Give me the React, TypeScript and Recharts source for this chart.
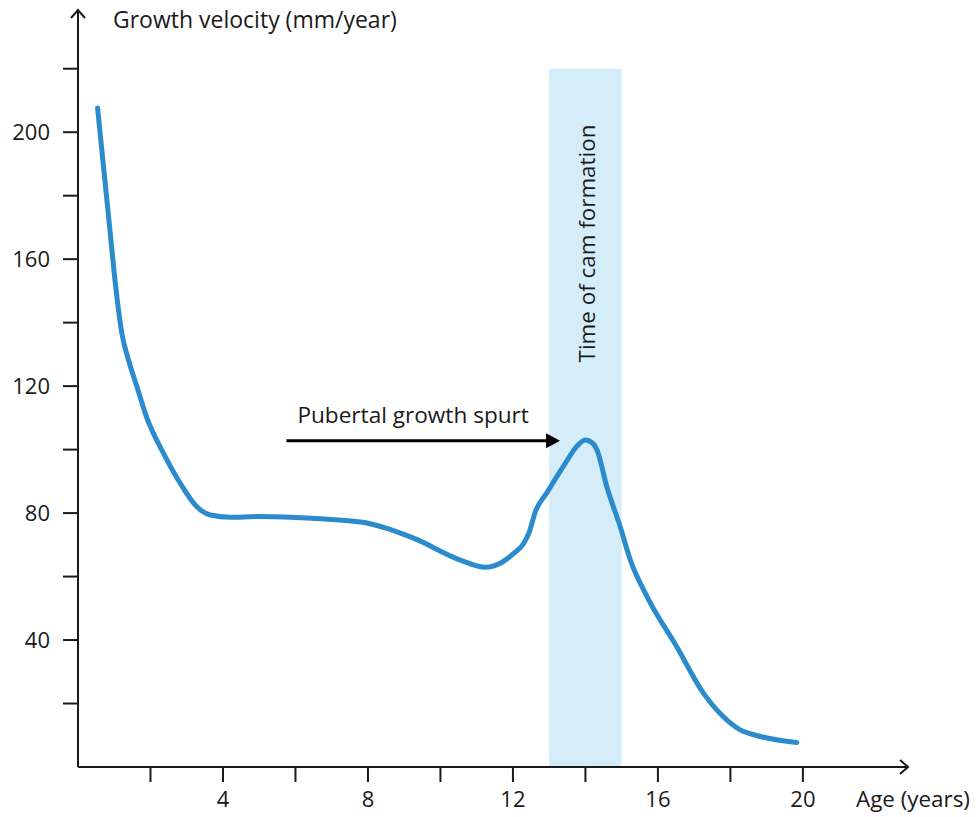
import {
  LineChart,
  Line,
  XAxis,
  YAxis,
  ReferenceArea,
  ReferenceLine,
  ReferenceDot,
} from "recharts";

// age (years) and growth velocity (mm/year)
const ages = [
  0.54, 0.75, 0.89, 1.03, 1.21, 1.4, 1.62, 1.9, 2.36, 2.82, 3.28, 3.65, 4.2, 4.94, 6, 7, 8, 9.26,
  10.55, 11.24, 11.7, 12.02, 12.3, 12.45, 12.62, 12.93, 13.39, 13.8, 14.0, 14.2, 14.32, 14.59,
  14.96, 15.24, 15.7, 16.52, 17.26, 17.8, 18.27, 18.7, 19.83,
];
const velocity = [
  207.6, 183.9, 168.2, 152.4, 136.6, 128, 120, 110, 98.8, 89.4, 82.0, 79.4, 78.7, 78.9, 78.6,
  78.0, 76.8, 72.1, 65.2, 62.9, 64.5, 67.3, 70.5, 74, 80.5, 86.3, 94.7, 101.5, 103, 102, 99.9,
  88.3, 75.7, 65.2, 53.7, 37.9, 23.2, 15.9, 11.7, 10.0, 7.7,
];

const xTicks = [2, 4, 6, 8, 10, 12, 14, 16, 18, 20];
const yTicks = [20, 40, 60, 80, 100, 120, 140, 160, 180, 200, 220];

// cam formation window and the growth spurt arrow
const camWindow = [13, 15];
const camTop = 220;
const spurtArrow = { from: 5.75, to: 13.3, y: 102.8 };

const X_MAX = 22.9;
const Y_MAX = 238.5;

const FONT = "'Open Sans', sans-serif";
const INK = "#1a1a1a";

const data = ages.map((age, i) => ({ age, velocity: velocity[i] }));

const Chevron = ({ cx, cy, dir }: any) => {
  if (cx == null || cy == null) return null;
  const pts =
    dir === "right"
      ? `${cx - 8},${cy - 7} ${cx},${cy} ${cx - 8},${cy + 7}`
      : `${cx - 7},${cy + 8} ${cx},${cy} ${cx + 7},${cy + 8}`;
  return <polyline points={pts} fill="none" stroke={INK} strokeWidth={2} />;
};

const SpurtArrow = (props: any) => {
  const { x1, y1, x2 } = props;
  if (x1 == null) return null;
  return (
    <g>
      <line x1={x1} y1={y1} x2={x2 - 12} y2={y1} stroke="#000" strokeWidth={3} />
      <polygon points={`${x2 - 14},${y1 - 7.5} ${x2},${y1} ${x2 - 14},${y1 + 7.5}`} fill="#000" />
      <text x={x1 + 11} y={y1 - 18} fontSize={22.6} fontFamily={FONT} fill={INK}>
        Pubertal growth spurt
      </text>
    </g>
  );
};

const App = () => {
  const tickStyle = { fontSize: 22, fontFamily: FONT, fill: INK };

  return (
    <div style={{ position: "absolute", left: 0, top: 0, background: "#fff" }}>
      <LineChart width={980} height={817} data={data} margin={{ top: 10, right: 72, left: 0, bottom: 0 }}>
        <ReferenceArea
          x1={camWindow[0]}
          x2={camWindow[1]}
          y1={0}
          y2={camTop}
          fill="#d5edf8"
          fillOpacity={1}
          stroke="none"
          label={({ viewBox }: any) => {
            const cx = viewBox.x + viewBox.width / 2 + 1;
            const cy = 243.5;
            return (
              <text
                x={cx}
                y={cy}
                transform={`rotate(-90, ${cx}, ${cy})`}
                textAnchor="middle"
                dominantBaseline="central"
                fontSize={22.4}
                fontFamily={FONT}
                fill={INK}
              >
                Time of cam formation
              </text>
            );
          }}
        />
        <XAxis
          dataKey="age"
          type="number"
          domain={[0, X_MAX]}
          ticks={xTicks}
          allowDataOverflow
          height={50}
          tickSize={15}
          tickMargin={9}
          axisLine={{ stroke: INK, strokeWidth: 2 }}
          tickLine={{ stroke: INK, strokeWidth: 2 }}
          tick={tickStyle}
          tickFormatter={(v: number) => (v % 4 === 0 ? String(v) : "")}
          label={({ viewBox }: any) => (
            <text
              x={viewBox.x + viewBox.width - 52}
              y={viewBox.y + 40}
              fontSize={22.4}
              fontFamily={FONT}
              fill={INK}
            >
              Age (years)
            </text>
          )}
        />
        <YAxis
          type="number"
          domain={[0, Y_MAX]}
          ticks={yTicks}
          allowDataOverflow
          width={78}
          tickSize={15}
          tickMargin={13}
          axisLine={{ stroke: INK, strokeWidth: 2 }}
          tickLine={{ stroke: INK, strokeWidth: 2 }}
          tick={tickStyle}
          tickFormatter={(v: number) => (v % 40 === 0 ? String(v) : "")}
          label={({ viewBox }: any) => (
            <text
              x={viewBox.x + viewBox.width + 35}
              y={viewBox.y + 18}
              fontSize={23}
              fontFamily={FONT}
              fill={INK}
            >
              Growth velocity (mm/year)
            </text>
          )}
        />
        <ReferenceLine
          segment={[
            { x: spurtArrow.from, y: spurtArrow.y },
            { x: spurtArrow.to, y: spurtArrow.y },
          ]}
          shape={SpurtArrow}
        />
        <ReferenceDot x={X_MAX} y={0} r={0} shape={(p: any) => <Chevron {...p} dir="right" />} />
        <ReferenceDot x={0} y={Y_MAX} r={0} shape={(p: any) => <Chevron {...p} dir="up" />} />
        <Line
          type="monotone"
          dataKey="velocity"
          stroke="#2b8bcc"
          strokeWidth={5}
          strokeLinecap="round"
          dot={false}
          activeDot={false}
          isAnimationActive={false}
        />
      </LineChart>
    </div>
  );
};

export default App;
